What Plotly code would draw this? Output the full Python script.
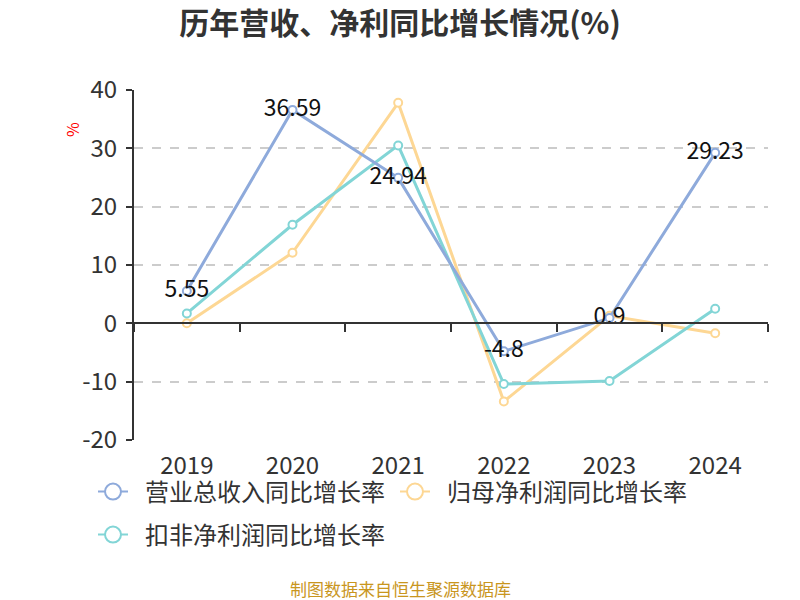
import plotly.graph_objects as go

years = ["2019", "2020", "2021", "2022", "2023", "2024"]
revenue_growth = [5.55, 36.59, 24.94, -4.8, 0.9, 29.23]
net_profit_growth = [0.0, 12.1, 37.8, -13.4, 1.3, -1.7]
deducted_profit_growth = [1.7, 16.9, 30.5, -10.4, -9.9, 2.5]
series_names = ["营业总收入同比增长率", "归母净利润同比增长率", "扣非净利润同比增长率"]
colors = ["#8eaadb", "#fdd794", "#82d5d6"]
y_ticks = [-20, -10, 0, 10, 20, 30, 40]
y_tick_labels = ["-20", "-10", "0", "10", "20", "30", "40"]

FONT = "Noto Sans CJK SC, Microsoft YaHei, sans-serif"

fig = go.Figure()

data = [revenue_growth, net_profit_growth, deducted_profit_growth]
# draw order: profit lines first, revenue (with labels) on top
for idx in [1, 2, 0]:
    fig.add_trace(go.Scatter(
        x=years, y=data[idx], mode="lines+markers+text" if idx == 0 else "lines+markers",
        text=[f"{v:g}" for v in data[idx]] if idx == 0 else None,
        textposition="middle center",
        textfont=dict(size=23, color="#111", family=FONT),
        line=dict(color=colors[idx], width=3),
        marker=dict(symbol="circle", size=8, color="white", line=dict(color=colors[idx], width=2)),
        showlegend=False, hoverinfo="x+y", cliponaxis=False,
    ))

# legend entries with larger symbols
legend_ids = ["legend", "legend", "legend2"]
for idx in range(3):
    fig.add_trace(go.Scatter(
        x=[None], y=[None], mode="lines+markers", name="\u2002" + series_names[idx],
        legend=legend_ids[idx],
        line=dict(color=colors[idx], width=2),
        marker=dict(symbol="circle", size=20, color="white", line=dict(color=colors[idx], width=2)),
    ))

# axis for the boundary ticks / baseline at zero
fig.add_trace(go.Scatter(x=years, y=[None] * len(years), xaxis="x2", showlegend=False,
                         hoverinfo="skip", mode="lines"))

legend_common = dict(orientation="h", xanchor="left", yanchor="middle",
                     font=dict(size=24, color="#333", family=FONT),
                     entrywidth=257, entrywidthmode="pixels",
                     bgcolor="rgba(0,0,0,0)")

fig.update_layout(
    width=800, height=600,
    margin=dict(l=134, r=32, t=90, b=160, autoexpand=False),
    paper_bgcolor="white", plot_bgcolor="white",
    font=dict(family=FONT, color="#333"),
    title=dict(text="<b>历年营收、净利同比增长情况(%)</b>", x=0.5, xanchor="center",
               y=1 - 23 / 600, yanchor="middle", font=dict(size=30, color="#333", family=FONT)),
    xaxis=dict(type="category", categoryorder="array", categoryarray=years, range=[-0.5, 5.5],
               showline=False, ticks="", showgrid=False, zeroline=False,
               tickfont=dict(size=24, color="#333"), ticklabelstandoff=9),
    xaxis2=dict(type="category", categoryorder="array", categoryarray=years, range=[-0.5, 5.5],
                overlaying="x", anchor="free", position=1 / 3, side="bottom",
                showline=True, linecolor="#333", linewidth=2,
                tickson="boundaries", ticks="outside", ticklen=8, tickwidth=2, tickcolor="#333",
                showticklabels=False, showgrid=False, zeroline=False),
    yaxis=dict(range=[-20, 40], tickvals=y_ticks, ticktext=y_tick_labels,
               showline=True, linecolor="#333", linewidth=2,
               ticks="outside", ticklen=6, tickwidth=2, tickcolor="#333",
               showgrid=True, gridcolor="#cccccc", gridwidth=1.5, griddash="dash",
               zeroline=False, tickfont=dict(size=24, color="#333"), ticklabelstandoff=4),
    legend=dict(x=(93 - 134) / 634, y=(440 - 492) / 350, **legend_common),
    legend2=dict(x=(93 - 134) / 634, y=(440 - 535) / 350, **legend_common),
    annotations=[
        dict(text="%", xref="paper", yref="paper", x=(72 - 134) / 634, y=(440 - 130) / 350,
             xanchor="center", yanchor="middle",
             showarrow=False, textangle=-90, font=dict(size=16, color="red", family=FONT)),
        dict(text="制图数据来自恒生聚源数据库", xref="paper", yref="paper", x=(400 - 134) / 634,
             y=(440 - 588) / 350, xanchor="center", yanchor="middle", showarrow=False,
             font=dict(size=17, color="#c9961e", family=FONT)),
    ],
)

fig.write_html("out.html", post_script="document.body.style.margin='0';",
               config={"displayModeBar": False})
